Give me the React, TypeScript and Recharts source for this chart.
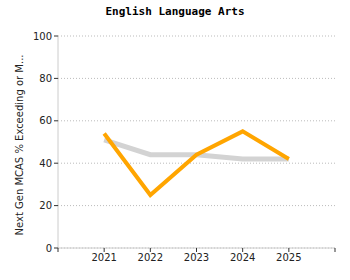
import { LineChart, Line, XAxis, YAxis, CartesianGrid } from "recharts";

const years = [2021, 2022, 2023, 2024, 2025];
const stateValues = [51, 44, 44, 42, 42];
const districtValues = [54, 25, 44, 55, 42];
const xTicks = [2020, 2021, 2022, 2023, 2024, 2025, 2026];
const yTicks = [0, 20, 40, 60, 80, 100];

const data = years.map((year, i) => ({
  year,
  state: stateValues[i],
  district: districtValues[i],
}));

const tickFont = { fill: "#222", fontSize: 10, fontFamily: "DejaVu Sans" };

export default function App() {
  return (
    <div style={{ position: "absolute", left: 0, top: 0, width: 350, height: 280, background: "#fff" }}>
      <div
        style={{
          position: "absolute",
          left: 0,
          top: 5,
          width: 350,
          textAlign: "center",
          fontFamily: "DejaVu Sans Mono",
          fontWeight: "bold",
          fontSize: 11,
          color: "#000",
        }}
      >
        English Language Arts
      </div>
      <LineChart width={350} height={280} data={data} margin={{ top: 36, right: 15, bottom: 0, left: 0 }}>
        <CartesianGrid vertical={false} stroke="#bbb" strokeDasharray="1 2" />
        <XAxis
          dataKey="year"
          type="number"
          domain={[2020, 2026]}
          ticks={xTicks}
          tickFormatter={(v: number) => (v === 2020 || v === 2026 ? "" : String(v))}
          tick={tickFont}
          axisLine={{ stroke: "#ccc" }}
          tickLine={{ stroke: "#333" }}
          tickSize={4}
          height={32}
        />
        <YAxis
          domain={[0, 100]}
          ticks={yTicks}
          tick={tickFont}
          axisLine={{ stroke: "#ccc" }}
          tickLine={{ stroke: "#333" }}
          tickSize={4}
          width={58}
          label={{
            value: "Next Gen MCAS % Exceeding or M...",
            angle: -90,
            position: "insideLeft",
            dx: 14,
            dy: 3,
            style: { fill: "#222", fontSize: 10, fontFamily: "DejaVu Sans", textAnchor: "middle" },
          }}
        />
        <Line
          dataKey="state"
          stroke="#d3d3d3"
          strokeWidth={5}
          dot={false}
          isAnimationActive={false}
        />
        <Line
          dataKey="district"
          stroke="#ffa500"
          strokeWidth={4}
          dot={false}
          isAnimationActive={false}
        />
      </LineChart>
    </div>
  );
}
